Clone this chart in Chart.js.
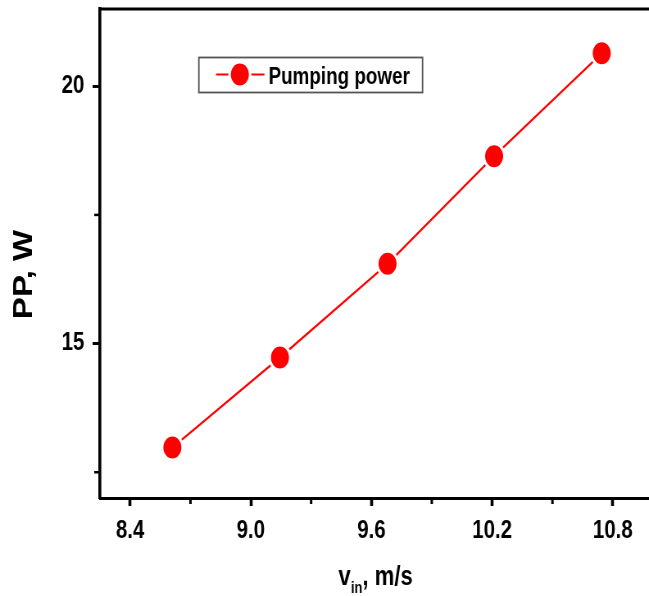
<!DOCTYPE html>
<html>
<head>
<meta charset="utf-8">
<script src="https://cdn.jsdelivr.net/npm/chart.js@4/dist/chart.umd.min.js"></script>
<style>
  html, body { margin: 0; padding: 0; background: #fff; overflow: hidden; }
  #wrap { width: 649px; height: 596px; overflow: hidden; }
  /* the reference is a horizontally squeezed figure: draw wide, squeeze with css */
  #chart { transform: scaleX(0.8194); transform-origin: 0 0; }
</style>
</head>
<body>
<div id="wrap"><canvas id="chart" width="792" height="596"></canvas></div>
<script>
// data
const velocity = [8.61, 9.145, 9.68, 10.21, 10.745];
const pumpingPower = [12.98, 14.73, 16.55, 18.64, 20.64];
const xMajorTicks = [8.4, 9.0, 9.6, 10.2, 10.8];
const xTickLabels = ['8.4', '9.0', '9.6', '10.2', '10.8'];
const xMinorTicks = [8.7, 9.3, 9.9, 10.5];
const yMajorTicks = [15, 20];
const yTickLabels = ['15', '20'];
const yMinorTicks = [12.5, 17.5];
const seriesLabel = 'Pumping power';
const xTitle = ['v', 'in', ', m/s'];
const yTitle = 'PP, W';

const RED = '#ff0000';
const FONT = '"Liberation Sans", Arial, sans-serif';

const framePlugin = {
  id: 'frame',
  afterDraw(chart) {
    const { ctx, chartArea: a, scales } = chart;
    ctx.save();
    ctx.strokeStyle = '#000';
    ctx.lineWidth = 3;
    ctx.beginPath();
    ctx.moveTo(a.left - 1.8, a.top);
    ctx.lineTo(a.right, a.top);
    ctx.stroke();

    // minor ticks
    ctx.lineWidth = 3;
    xMinorTicks.forEach(v => {
      const px = scales.x.getPixelForValue(v);
      ctx.beginPath(); ctx.moveTo(px, a.bottom); ctx.lineTo(px, a.bottom + 6); ctx.stroke();
    });
    ctx.lineWidth = 2.5;
    yMinorTicks.forEach(v => {
      const py = scales.y.getPixelForValue(v);
      ctx.beginPath(); ctx.moveTo(a.left, py); ctx.lineTo(a.left - 7, py); ctx.stroke();
    });

    // legend
    const lx = a.left + 120.7, ly = 57.5;
    ctx.strokeStyle = '#555';
    ctx.lineWidth = 1.8;
    ctx.strokeRect(lx, ly, 273, 35);
    ctx.strokeStyle = RED;
    ctx.lineWidth = 2;
    ctx.beginPath(); ctx.moveTo(lx + 21, ly + 17); ctx.lineTo(lx + 80, ly + 17); ctx.stroke();
    ctx.fillStyle = '#fff';
    ctx.beginPath(); ctx.arc(lx + 50, ly + 17, 14, 0, Math.PI * 2); ctx.fill();
    ctx.fillStyle = RED;
    ctx.beginPath(); ctx.arc(lx + 50, ly + 17, 11, 0, Math.PI * 2); ctx.fill();
    ctx.fillStyle = '#000';
    ctx.font = 'bold 23px ' + FONT;
    ctx.textAlign = 'left';
    ctx.textBaseline = 'alphabetic';
    ctx.fillText(chart.data.datasets[0].label, lx + 85, ly + 26);

    // x title with subscript
    ctx.font = 'bold 27px ' + FONT;
    const w0 = ctx.measureText(xTitle[0]).width;
    const w2 = ctx.measureText(xTitle[2]).width;
    ctx.font = 'bold 16px ' + FONT;
    const w1 = ctx.measureText(xTitle[1]).width;
    let tx = 458.5 - (w0 + w1 + w2) / 2;
    const base = 585;
    ctx.font = 'bold 27px ' + FONT;
    ctx.fillText(xTitle[0], tx, base); tx += w0;
    ctx.font = 'bold 16px ' + FONT;
    ctx.fillText(xTitle[1], tx, base + 8); tx += w1;
    ctx.font = 'bold 27px ' + FONT;
    ctx.fillText(xTitle[2], tx, base);

    // y title
    ctx.translate(38.7, 274.5);
    ctx.rotate(-Math.PI / 2);
    ctx.font = 'bold 33px ' + FONT;
    ctx.textAlign = 'center';
    ctx.fillText(yTitle, 0, 0);
    ctx.restore();
  }
};

const tickFont = { family: FONT, size: 25, weight: 'bold' };

new Chart(document.getElementById('chart').getContext('2d'), {
  type: 'line',
  data: {
    datasets: [{
      label: seriesLabel,
      data: velocity.map((x, i) => ({ x, y: pumpingPower[i] })),
      borderColor: RED,
      borderWidth: 2.2,
      pointBackgroundColor: RED,
      pointBorderColor: '#fff',
      pointBorderWidth: 3,
      pointRadius: 12.5,
      tension: 0,
    }],
  },
  options: {
    responsive: false,
    animation: false,
    layout: { autoPadding: false, padding: { top: 9, right: 0, left: 0, bottom: 0 } },
    plugins: { legend: { display: false }, tooltip: { enabled: false } },
    scales: {
      x: {
        type: 'linear',
        min: 8.25,
        max: 10.98,
        afterBuildTicks: s => { s.ticks = xMajorTicks.map(v => ({ value: v })); },
        afterFit: s => { s.height = 98; s.paddingLeft = 0; s.paddingRight = 0; },
        grid: { drawOnChartArea: false, tickLength: 8, tickWidth: 3.6, tickColor: '#000' },
        border: { color: '#000', width: 3 },
        ticks: { callback: (v, i) => xTickLabels[i], font: tickFont, color: '#000', padding: 10, maxRotation: 0, autoSkip: false },
      },
      y: {
        min: 12,
        max: 21.5,
        afterBuildTicks: s => { s.ticks = yMajorTicks.map(v => ({ value: v })); },
        afterFit: s => { s.width = 122; s.paddingTop = 0; s.paddingBottom = 0; },
        grid: { drawOnChartArea: false, tickLength: 9, tickWidth: 3, tickColor: '#000' },
        border: { color: '#000', width: 3.6 },
        ticks: { callback: (v, i) => yTickLabels[i], font: tickFont, color: '#000', padding: 10, autoSkip: false },
      },
    },
  },
  plugins: [framePlugin],
});
</script>
</body>
</html>
